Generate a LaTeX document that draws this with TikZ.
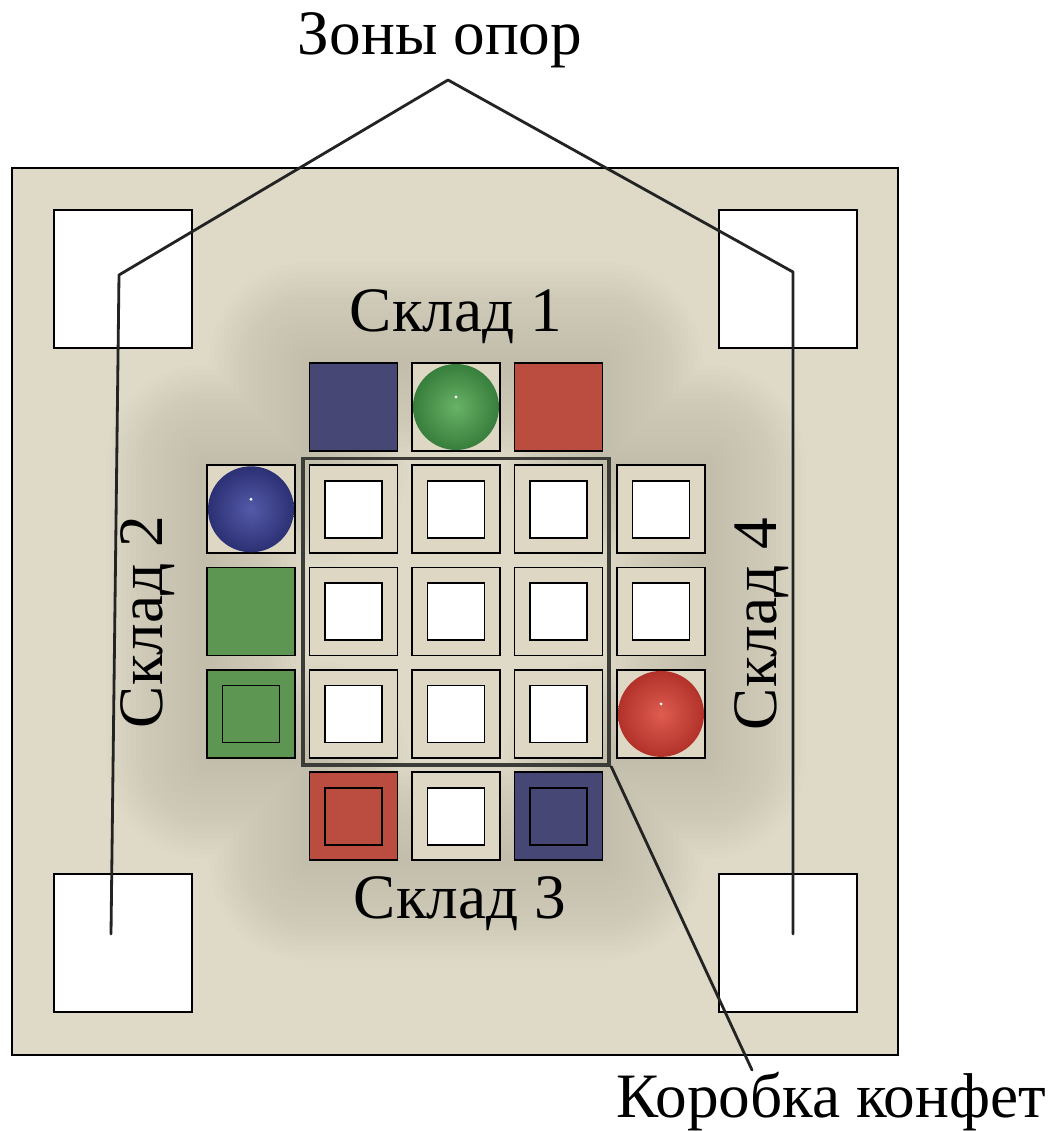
\documentclass[tikz,border=0pt]{standalone}
\usepackage{fontspec}
\setmainfont{Liberation Serif}
\usetikzlibrary{positioning,fit,backgrounds}

\definecolor{boardbg}{RGB}{223,218,200}
\definecolor{cellbg}{RGB}{222,215,196}
\definecolor{boxblue}{RGB}{70,71,117}
\definecolor{boxgreen}{RGB}{92,150,82}
\definecolor{boxred}{RGB}{186,76,64}
\definecolor{greenlight}{RGB}{104,178,102}
\definecolor{greendark}{RGB}{56,126,60}
\definecolor{bluelight}{RGB}{84,90,168}
\definecolor{bluedark}{RGB}{44,48,116}
\definecolor{redlight}{RGB}{222,92,80}
\definecolor{reddark}{RGB}{178,50,42}
\definecolor{shadowcol}{RGB}{80,74,58}
\definecolor{leadercol}{RGB}{35,35,35}
\definecolor{framecol}{RGB}{60,60,56}

\tikzset{
  cell/.style={draw, line width=1pt, minimum size=1.76cm, inner sep=0pt, fill=#1},
  cell/.default=cellbg,
  slot/.style={draw, line width=1pt, minimum size=1.14cm, inner sep=0pt, fill=#1},
  slot/.default=white,
  pad/.style={draw, line width=0.8pt, fill=white, minimum size=2.76cm, inner sep=0pt},
  candy/.style 2 args={circle, minimum size=1.72cm, inner sep=0pt, inner color=#1, outer color=#2},
  bigtext/.style={font=\fontsize{36}{42}\selectfont, inner sep=0pt},
  leader/.style={leadercol, line width=1.6pt, line join=round, line cap=round},
}

\begin{document}
\begin{tikzpicture}[x=0.02cm, y=-0.02cm]
  \useasboundingbox (0,0) rectangle (1063,1131);

  % support zones
  \node[pad] (padtl) at (123,279) {};
  \node[pad] (padtr) at (788,279) {};
  \node[pad] (padbl) at (123,943) {};
  \node[pad] (padbr) at (788,943) {};

  % empty places
  \foreach \r/\c in {1/1,1/2,1/3,1/4,2/1,2/2,2/3,2/4,3/1,3/2,3/3,4/2} {
    \node[cell] (c\r\c) at ({251+102.5*\c},{407+102.3*\r}) {};
    \node[slot] (s\r\c) at (c\r\c) {};
  }

  % cubes
  \foreach \r/\c/\col in {0/1/boxblue,0/3/boxred,2/0/boxgreen} {
    \node[cell=\col] (c\r\c) at ({251+102.5*\c},{407+102.3*\r}) {};
  }

  % cubes standing on marked places
  \foreach \r/\c/\col in {3/0/boxgreen,4/1/boxred,4/3/boxblue} {
    \node[cell=\col] (c\r\c) at ({251+102.5*\c},{407+102.3*\r}) {};
    \node[slot=\col] (s\r\c) at (c\r\c) {};
  }

  % balls
  \foreach \r/\c/\lt/\dk in {0/2/greenlight/greendark,1/0/bluelight/bluedark,3/4/redlight/reddark} {
    \node[cell] (c\r\c) at ({251+102.5*\c},{407+102.3*\r}) {};
    \node[candy={\lt}{\dk}] (b\r\c) at (c\r\c) {};
    \fill[white] ([yshift=0.2cm]b\r\c.center) circle (1.6);
  }

  % board with a soft shadow under the field
  \begin{scope}[on background layer]
    \draw[line width=0.8pt, fill=boardbg] (12,168) rectangle (898,1055);
    \foreach \d in {1,...,20} {
      \draw[shadowcol, draw opacity=0.008, line width=\d*0.2cm, line join=round]
        (c01.north west) -- (c03.north east) -- (c13.north east) -- (c14.north east)
        -- (c34.south east) -- (c33.south east) -- (c43.south east) -- (c41.south west)
        -- (c31.south west) -- (c30.south west) -- (c10.north west) -- (c11.north west) -- cycle;
    }
  \end{scope}

  % candy box
  \node[draw=framecol, line width=2.2pt, fit=(c11)(c33), inner sep=0.12cm] (box) {};

  % labels
  \node[bigtext, anchor=base] (zones) at (440,55) {Зоны опор};
  \node[bigtext, anchor=base] (boxname) at (831,1117) {Коробка конфет};
  \node[bigtext, anchor=base] (store1) at (456,332) {Склад 1};
  \node[bigtext, anchor=base] (store3) at (460,918) {Склад 3};
  \node[bigtext, anchor=base, rotate=90] (store2) at (162,622) {Склад 2};
  \node[bigtext, anchor=base, rotate=90] (store4) at (776,624) {Склад 4};

  % leaders
  \coordinate (apex) at (448,80);
  \coordinate (bendl) at (119,275);
  \coordinate (bendr) at (793,272);
  \coordinate (footl) at (111,934);
  \coordinate (footr) at (793,934);
  \coordinate (boxend) at (752,1070);
  \draw[leader] (footl) -- (bendl) -- (apex) -- (bendr) -- (footr);
  \draw[leader] (box.south east) -- (boxend);
\end{tikzpicture}
\end{document}
